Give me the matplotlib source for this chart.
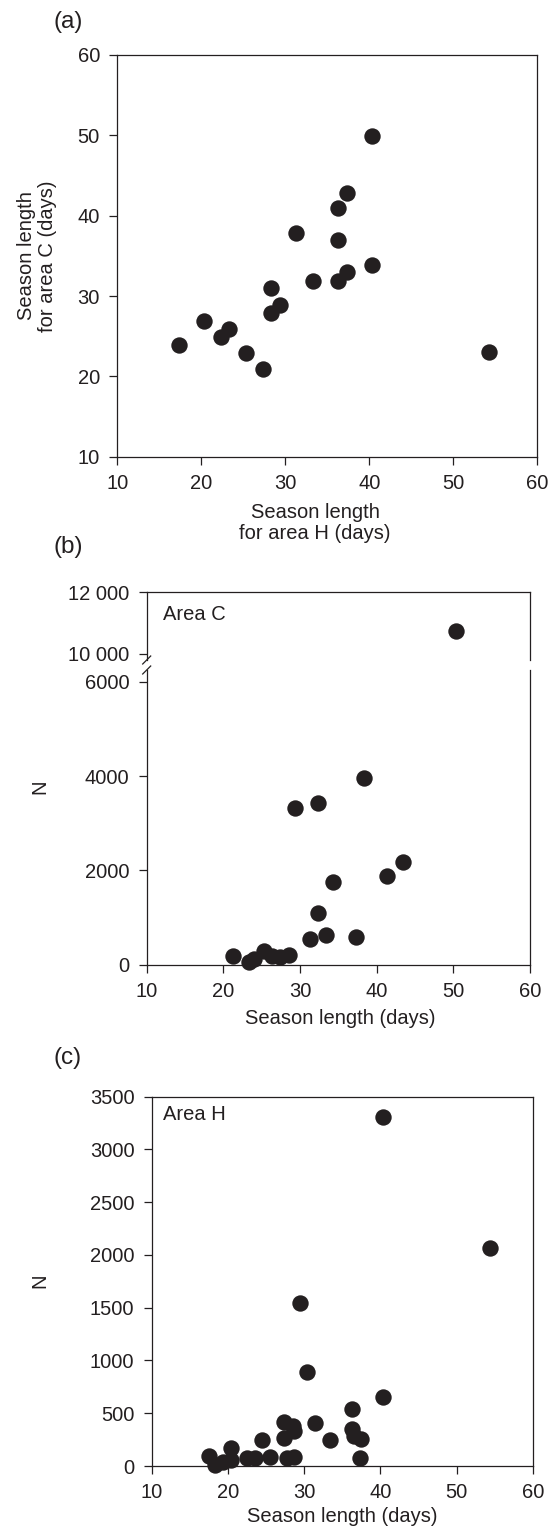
import numpy as np
import matplotlib
matplotlib.use("Agg")
import matplotlib.pyplot as plt

plt.rcParams["font.family"] = ["Liberation Sans", "DejaVu Sans"]

INK = "#231f20"
FS = 14.5      # ticks and axis labels
FS_PANEL = 17.5

# (a) season length, area H vs area C (days)
a_len_h = [40.3, 37.3, 36.3, 31.3, 36.3, 40.3, 37.4, 36.3, 33.3, 28.3,
           29.4, 28.3, 20.3, 23.3, 22.3, 17.3, 25.3, 27.3, 54.3]
a_len_c = [49.9, 42.8, 40.9, 37.9, 37.0, 33.9, 33.0, 31.9, 31.9, 31.0,
           28.9, 27.9, 26.9, 25.9, 24.9, 23.9, 22.9, 20.9, 23.0]

# (b) area C: season length vs N
b_len = [50.4, 38.35, 32.3, 29.3, 43.4, 41.35, 34.3, 32.3, 33.35, 31.3,
         37.3, 21.3, 23.3, 24.0, 25.3, 26.4, 27.4, 28.5]
b_n = [10750, 3958, 3434, 3320, 2173, 1883, 1749, 1097, 630, 552,
       588, 190, 56, 130, 300, 190, 162, 212]

# (c) area H: season length vs N
c_len = [40.3, 54.3, 29.4, 30.3, 40.3, 36.3, 31.35, 27.4, 28.5, 28.6,
         27.4, 24.4, 33.4, 36.3, 36.5, 37.4, 37.3, 20.4, 17.5, 18.3,
         19.4, 20.4, 22.5, 23.5, 25.5, 27.7, 28.7]
c_n = [3310, 2064, 1543, 888, 654, 537, 405, 420, 380, 335,
       269, 242, 247, 352, 286, 253, 75, 166, 97, 9,
       41, 57, 73, 73, 88, 73, 88]

x_ticks = [10, 20, 30, 40, 50, 60]

W, H = 558, 1527
fig = plt.figure(figsize=(W / 100, H / 100), dpi=100)


def box(left, top, right, bottom):
    # pixel box -> figure fraction
    return [left / W, 1 - bottom / H, (right - left) / W, (bottom - top) / H]


def label(x, y, s, **kw):
    kw.setdefault("fontsize", FS)
    kw.setdefault("ha", "center")
    fig.text(x / W, 1 - y / H, s, va="center", color=INK, **kw)


def style(ax):
    ax.tick_params(direction="out", length=5.5, width=0.9, labelsize=FS,
                   colors=INK, top=False, right=False)
    ax.tick_params(axis="x", pad=7)
    ax.tick_params(axis="y", pad=7)
    for s in ax.spines.values():
        s.set_linewidth(0.9)
        s.set_color(INK)


def dots(ax, x, y, clip=False):
    ax.plot(x, y, "o", color=INK, markersize=11.8, markeredgewidth=0,
            linestyle="none", clip_on=clip, zorder=3)


# ---- (a)
ax_a = fig.add_axes(box(117.3, 55, 537.3, 456.7))
dots(ax_a, a_len_h, a_len_c)
ax_a.set_xlim(10, 60)
ax_a.set_ylim(10, 60)
ax_a.set_xticks(x_ticks)
ax_a.set_yticks([10, 20, 30, 40, 50, 60])
style(ax_a)
label(68, 22, "(a)", fontsize=FS_PANEL)
label(315, 523, "Season length\nfor area H (days)", linespacing=1.15)
label(37, 256, "Season length\nfor area C (days)", rotation=90, linespacing=1.15)

# ---- (b) broken y axis
b_len = np.array(b_len)
b_n = np.array(b_n)
hi = b_n > 8000

ax_bt = fig.add_axes(box(146.7, 592.3, 530, 660))
ax_bb = fig.add_axes(box(146.7, 670, 530, 964.7))
dots(ax_bt, b_len[hi], b_n[hi], clip=True)
dots(ax_bb, b_len[~hi], b_n[~hi])
ax_bt.set_xlim(10, 60)
ax_bb.set_xlim(10, 60)
ax_bt.set_ylim(9800, 12000)
ax_bb.set_ylim(0, 6250)
ax_bt.set_yticks([10000, 12000])
ax_bt.set_yticklabels(["10 000", "12 000"])
ax_bb.set_yticks([0, 2000, 4000, 6000])
ax_bb.set_xticks(x_ticks)
ax_bt.set_xticks([])
style(ax_bt)
style(ax_bb)
ax_bt.spines["bottom"].set_visible(False)
ax_bb.spines["top"].set_visible(False)

# small diagonal break marks on the left spine
d = 4.0
for ax, yy in ((ax_bt, 0.0), (ax_bb, 1.0)):
    bb = ax.get_position()
    dx = d / (bb.width * W)
    dy = d / (bb.height * H)
    ax.plot([-dx, dx], [yy - dy, yy + dy], transform=ax.transAxes,
            color=INK, linewidth=0.9, clip_on=False)

label(163.3, 614, "Area C", ha="left")
label(68, 547, "(b)", fontsize=FS_PANEL)
label(340, 1019, "Season length (days)")
label(40, 787, "N", rotation=90)

# ---- (c)
ax_c = fig.add_axes(box(151.7, 1096.7, 533, 1466))
dots(ax_c, c_len, c_n)
ax_c.set_xlim(10, 60)
ax_c.set_ylim(0, 3500)
ax_c.set_xticks(x_ticks)
ax_c.set_yticks(np.arange(0, 3501, 500))
style(ax_c)
label(163.3, 1115, "Area H", ha="left")
label(68, 1058, "(c)", fontsize=FS_PANEL)
label(342, 1516, "Season length (days)")
label(40, 1281, "N", rotation=90)

fig.savefig("out.png", dpi=100)
